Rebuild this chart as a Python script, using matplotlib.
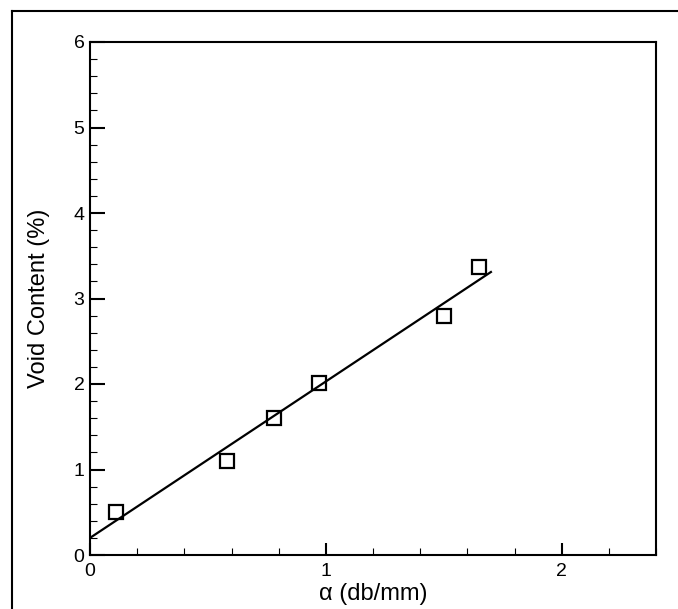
import numpy as np
import matplotlib
matplotlib.use("Agg")
from matplotlib import pyplot as plt
from matplotlib.ticker import MultipleLocator

# measured points
alpha = [0.11, 0.58, 0.78, 0.97, 1.50, 1.65]
void = [0.50, 1.10, 1.60, 2.01, 2.80, 3.37]

# fitted line end points
fit_x = [0.0, 1.70]
fit_y = [0.20, 3.31]

plt.rcParams["font.family"] = ["Liberation Sans", "DejaVu Sans"]

fig = plt.figure(figsize=(6.78, 6.09), dpi=100)

# outer frame (only top and left edges visible)
fig.add_artist(plt.Line2D([12 / 678, 1.0], [1 - 11 / 609, 1 - 11 / 609],
                          transform=fig.transFigure, color="black", lw=1.5))
fig.add_artist(plt.Line2D([12 / 678, 12 / 678], [0.0, 1 - 11 / 609],
                          transform=fig.transFigure, color="black", lw=1.5))

ax = fig.add_axes([90 / 678, 54 / 609, 566 / 678, 513 / 609])

ax.plot(fit_x, fit_y, color="black", lw=1.6)
ax.plot(alpha, void, ls="none", marker="s", ms=9.5, mfc="none",
        mec="black", mew=1.6)

ax.set_xlim(0, 2.4)
ax.set_ylim(0, 6)
ax.xaxis.set_major_locator(MultipleLocator(1))
ax.xaxis.set_minor_locator(MultipleLocator(0.2))
ax.yaxis.set_major_locator(MultipleLocator(1))
ax.yaxis.set_minor_locator(MultipleLocator(0.2))

ax.tick_params(which="both", direction="in", labelsize=14, top=False, right=False)
ax.tick_params(axis="y", which="major", length=11, width=1.5, pad=4)
ax.tick_params(axis="x", which="major", length=9, width=1.5, pad=6)
ax.tick_params(which="minor", length=5, width=0.8)
for s in ax.spines.values():
    s.set_linewidth(1.5)

ax.set_xlabel("\u03b1 (db/mm)", fontsize=17, labelpad=2)
ax.set_ylabel("Void Content (%)", fontsize=17, labelpad=17)

fig.savefig("out.png", dpi=100)
